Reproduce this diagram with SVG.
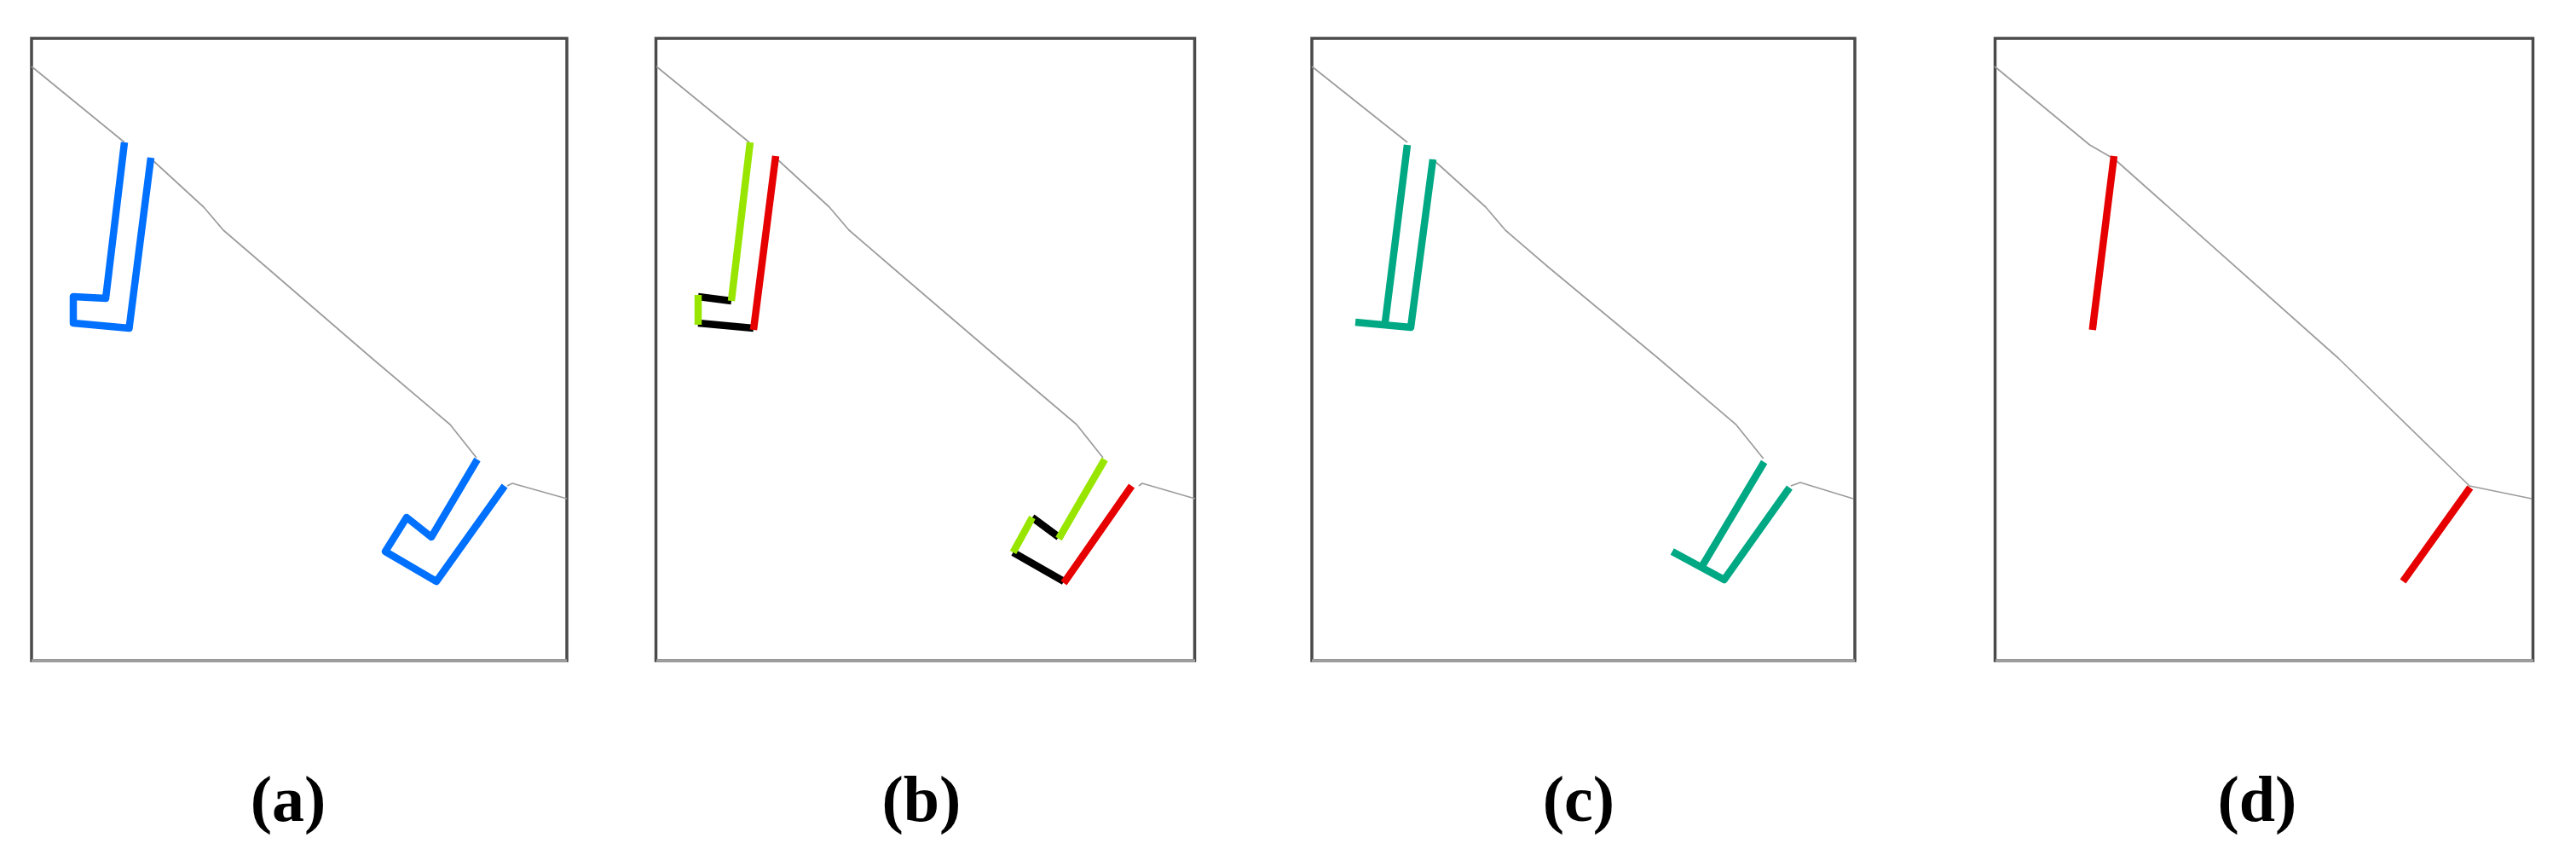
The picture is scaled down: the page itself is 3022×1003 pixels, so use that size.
<svg xmlns="http://www.w3.org/2000/svg" width="3022" height="1003" viewBox="0 0 3022 1003">
<style>
.bg{fill:#fff}
.frame{fill:none;stroke:#4a4a4a;stroke-width:3.5}
.base{fill:none;stroke:#a0a0a0;stroke-width:3.5}
.coast{fill:none;stroke:#9c9c9c;stroke-width:1.7;stroke-linejoin:round}
.s{fill:none;stroke-width:8.500;stroke-linejoin:round;stroke-linecap:butt}
.blue{stroke:#0070ff}.green{stroke:#98e600}.red{stroke:#e60000}.black{stroke:#000}.teal{stroke:#00a884}
.lab{font-family:"Liberation Serif","Times New Roman",serif;font-weight:700;font-size:76px;text-anchor:middle;fill:#000}
</style>
<rect class="bg" width="3022" height="1003"/>
<g id="panel-a">
<rect class="frame" x="37" y="45" width="628" height="730"/>
<path class="base" d="M37 775H665"/>
<path class="coast" d="M37 78L146 167M178 187L239 243L262 270L312 313L436 420L528 498L559 537M595 570L601 567L665 585"/>
<path class="s blue" d="M146 167L124 350L86 348V379L151.500 385L177 185"/>
<path class="s blue" d="M560 539L506 630L477 607L452 647L512 682L592 570"/>
<text class="lab" x="338" y="963">(a)</text>
</g>
<g id="panel-b">
<rect class="frame" x="769.500" y="45" width="632" height="730"/>
<path class="base" d="M770 775H1402"/>
<path class="coast" d="M770 78L879 167M912 187L973 243L996 270L1046 313L1171 420L1263 498L1294 537M1336 570L1340 567L1402 585"/>
<path class="s black" d="M858 353L819 348M819 379L884 385M1242 630L1211 607M1188.500 648L1248 682"/>
<path class="s green" d="M880 167L858 353M819 346V381M1296 539L1242 632M1211 607L1188.500 648"/>
<path class="s red" d="M910 183L884 387M1327.600 570L1248 684"/>
<text class="lab" x="1081" y="963">(b)</text>
</g>
<g id="panel-c">
<rect class="frame" x="1539" y="45" width="637" height="730"/>
<path class="base" d="M1539 775H2176"/>
<path class="coast" d="M1539 78L1651 167M1681 187L1743 243L1766 270L1816 313L1945 420L2036.500 498L2068.700 538M2100.800 570L2112 566L2174 585"/>
<path class="s teal" d="M1651 170L1625 378M1590 378L1655 384L1681 187"/>
<path class="s teal" d="M2069.600 542L1997.500 663M1961.700 647L2022.700 680L2099.400 572"/>
<text class="lab" x="1852" y="963">(c)</text>
</g>
<g id="panel-d">
<rect class="frame" x="2340.500" y="45" width="631" height="730"/>
<path class="base" d="M2341 775H2972"/>
<path class="coast" d="M2340 78L2451.500 170L2481 187L2743 420L2897 570L2970 585"/>
<path class="s red" d="M2480 183L2454.700 387"/>
<path class="s red" d="M2897.800 572L2819 682"/>
<text class="lab" x="2648" y="963">(d)</text>
</g>
</svg>
